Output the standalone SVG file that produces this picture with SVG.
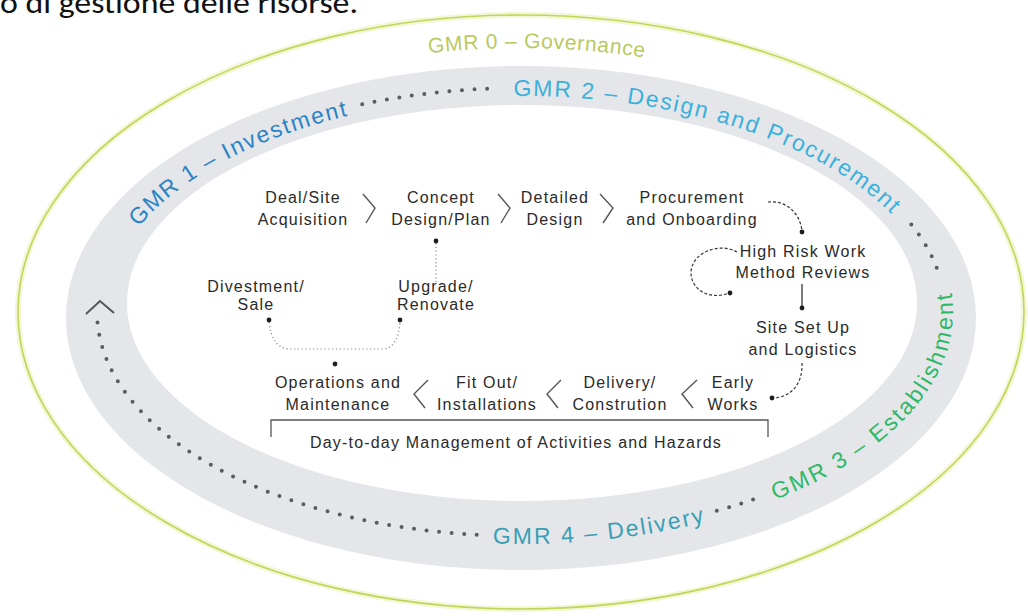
<svg xmlns="http://www.w3.org/2000/svg" width="1028" height="616" viewBox="0 0 1028 616">
<defs>
<style>
.lbl{font-family:"Liberation Sans",Arial,sans-serif;font-size:16px;fill:#2a2a2a;letter-spacing:1.2px;text-anchor:middle}
.gmr{font-family:"Liberation Sans",Arial,sans-serif;font-size:23px;letter-spacing:2px;dominant-baseline:central}
.dots{fill:none;stroke:#5c5c5c;stroke-width:4;stroke-linecap:round;stroke-dasharray:0 12.6}
.chev{fill:none;stroke:#555;stroke-width:1.4}
.dash{fill:none;stroke:#333;stroke-width:1.2;stroke-dasharray:3 2}
.solid{fill:none;stroke:#333;stroke-width:1.3}
.fine{fill:none;stroke:#888;stroke-width:1.2;stroke-dasharray:1.2 2.6}
.dot{fill:#1e1e1e}
</style>
<path id="p0" d="M428 45.4 A470 272 0 0 1 928 176"/>
<path id="p1" d="M133 221.6 A424 224 0 0 1 521 88"/>
<path id="p2" d="M513.6 88.03 A424 224 0 0 1 938.6 350.9"/>
<path id="p3" d="M772 492.5 A424 224 0 0 0 845.8 168"/>
<path id="p4" d="M492.9 535.5 A424 224 0 0 0 888.2 424"/>
</defs>
<rect width="1028" height="616" fill="#ffffff"/>
<text x="0" y="13" font-family="Calibri,'Liberation Sans',sans-serif" font-size="30" fill="#111" textLength="358" lengthAdjust="spacingAndGlyphs">o di gestione delle risorse.</text>

<g id="rings">
<ellipse cx="521" cy="312" rx="503" ry="297" fill="none" stroke="#eef4c4" stroke-width="6" opacity="0.7"/>
<ellipse cx="521" cy="312" rx="503" ry="297" fill="none" stroke="#c2d45a" stroke-width="1.6"/>
<path fill="#e4e6e9" fill-rule="evenodd" d="M66 318 a455 252 0 1 0 910 0 a455 252 0 1 0 -910 0 Z M127 303 a395 198 0 1 0 790 0 a395 198 0 1 0 -790 0 Z"/>
</g>

<g id="gmr-labels">
<text class="gmr" fill="#b9c95f" style="letter-spacing:0.8px;font-size:21px"><textPath href="#p0">GMR 0 – Governance</textPath></text>
<text class="gmr" fill="#2b83c4"><textPath href="#p1">GMR 1 – Investment</textPath></text>
<text class="gmr" fill="#3ab0dc"><textPath href="#p2">GMR 2 – Design and Procurement</textPath></text>
<text class="gmr" fill="#2fb866"><textPath href="#p3">GMR 3 – Establishment</textPath></text>
<text class="gmr" fill="#3a9fb5"><textPath href="#p4">GMR 4 – Delivery</textPath></text>
</g>

<g id="cycle-connectors">
<path class="dots" d="M362.2 104.3 A424 224 0 0 1 498.8 88.3"/>
<path class="dots" d="M911.3 224.5 A424 224 0 0 1 939.2 275"/>
<path class="dots" d="M716.8 510.7 A424 224 0 0 0 761.1 496.6"/>
<path class="dots" d="M476.7 534.8 A424 224 0 0 1 97.3 319.8"/>
<path d="M86 314 L100 301 L114 313" fill="none" stroke="#555" stroke-width="2"/>
</g>

<g id="flow-connectors">
<path class="chev" d="M363 194 L375 208 L366 223"/>
<path class="chev" d="M498 194 L510 208 L501 223"/>
<path class="chev" d="M600 194 L613 208 L603 223"/>
<path class="chev" d="M428 380 L414 394 L425 408"/>
<path class="chev" d="M561 380 L547 394 L558 408"/>
<path class="chev" d="M697 380 L682 394 L693 408"/>
<path class="fine" d="M436 243 L436 283"/>
<path class="fine" d="M269 322 Q272 349 290 349 L382 349 Q398 349 400 322"/>
<path class="dash" d="M768 202 C785 200 800 212 802 231"/>
<path class="dash" d="M737 252 C720 242 692 252 691 272 C691 292 712 300 729 293"/>
<path class="solid" d="M802 284 L802 306"/>
<path class="dash" d="M802 363 C803 385 790 397 774 398"/>
<path d="M271 437 V420 H768 V437" fill="none" stroke="#555" stroke-width="1.3"/>
<circle class="dot" cx="436" cy="241" r="2.4"/>
<circle class="dot" cx="269" cy="320" r="2.4"/>
<circle class="dot" cx="400" cy="320" r="2.4"/>
<circle class="dot" cx="335" cy="364" r="2.4"/>
<circle class="dot" cx="802" cy="232" r="2.4"/>
<circle class="dot" cx="730" cy="293" r="2.4"/>
<circle class="dot" cx="802" cy="308" r="2.4"/>
<circle class="dot" cx="772" cy="398" r="2.4"/>
</g>

<g id="n-deal"><text class="lbl" x="303" y="203">Deal/Site</text><text class="lbl" x="303" y="225">Acquisition</text></g>
<g id="n-concept"><text class="lbl" x="441" y="203">Concept</text><text class="lbl" x="441" y="225">Design/Plan</text></g>
<g id="n-detailed"><text class="lbl" x="555" y="203">Detailed</text><text class="lbl" x="555" y="225">Design</text></g>
<g id="n-procurement"><text class="lbl" x="692" y="203">Procurement</text><text class="lbl" x="692" y="225">and Onboarding</text></g>
<g id="n-highrisk"><text class="lbl" x="803" y="257">High Risk Work</text><text class="lbl" x="803" y="278">Method Reviews</text></g>
<g id="n-site"><text class="lbl" x="803" y="333">Site Set Up</text><text class="lbl" x="803" y="355">and Logistics</text></g>
<g id="n-divest"><text class="lbl" x="256" y="292">Divestment/</text><text class="lbl" x="256" y="310">Sale</text></g>
<g id="n-upgrade"><text class="lbl" x="436" y="292">Upgrade/</text><text class="lbl" x="436" y="310">Renovate</text></g>
<g id="n-operations"><text class="lbl" x="338" y="388">Operations and</text><text class="lbl" x="338" y="410">Maintenance</text></g>
<g id="n-fitout"><text class="lbl" x="487" y="388">Fit Out/</text><text class="lbl" x="487" y="410">Installations</text></g>
<g id="n-delivery"><text class="lbl" x="620" y="388">Delivery/</text><text class="lbl" x="620" y="410">Constrution</text></g>
<g id="n-early"><text class="lbl" x="733" y="388">Early</text><text class="lbl" x="733" y="410">Works</text></g>
<g id="n-daytoday"><text class="lbl" x="516" y="448">Day-to-day Management of Activities and Hazards</text></g>
</svg>
